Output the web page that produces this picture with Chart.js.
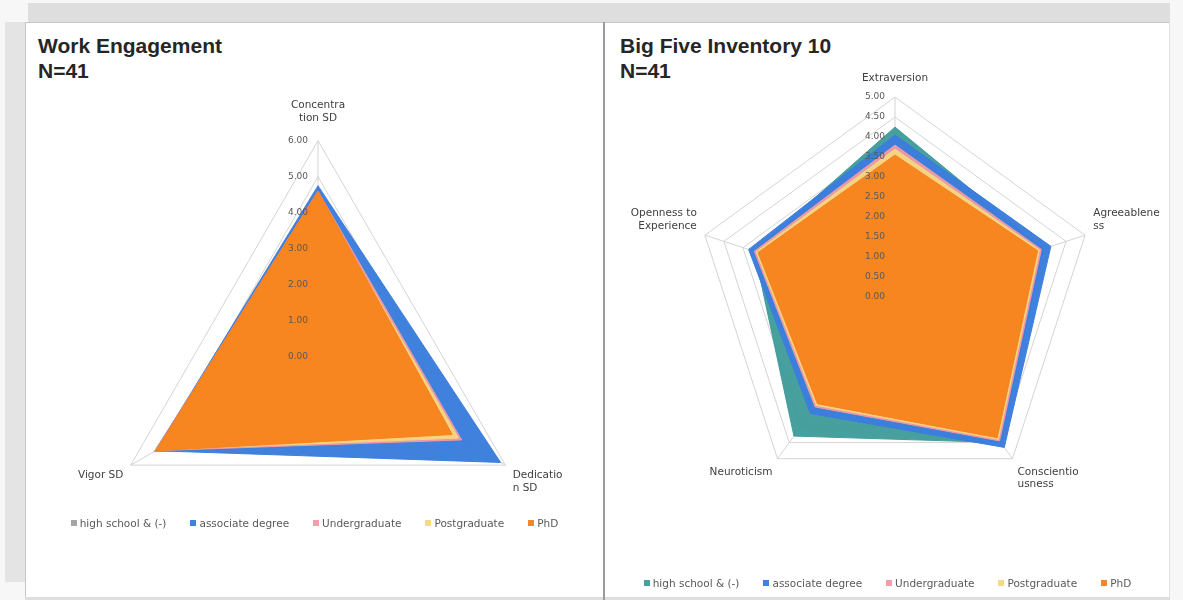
<!DOCTYPE html>
<html>
<head>
<meta charset="utf-8">
<script src="https://cdn.jsdelivr.net/npm/chart.js@4.4.0/dist/chart.umd.min.js"></script>
<style>
    body { margin: 0; width: 1183px; height: 600px; background: #f7f7f7; position: relative; overflow: hidden; font-family: "Liberation Sans", Arial, sans-serif; }
    .strip-top { position: absolute; left: 28px; top: 3px; width: 1142px; height: 19px; background: #dedede; }
    .strip-left { position: absolute; left: 5px; top: 22px; width: 20px; height: 560px; background: #e4e4e4; }
    .strip-bottom { position: absolute; left: 25px; top: 597px; width: 1145px; height: 3px; background: #dedede; }
    .panel { position: absolute; left: 25px; top: 22px; width: 1145px; height: 575px; background: #fff; border-top: 1px solid #c6c6c6; border-left: 1px solid #c6c6c6; border-right: 1px solid #e2e2e2; box-sizing: border-box; }
    .divider { position: absolute; left: 603px; top: 22px; width: 2px; height: 578px; background: #9a9a9a; }
    .title { position: absolute; top: 33px; font-weight: bold; font-size: 21px; line-height: 25px; color: #262626; }
    canvas { position: absolute; }
    .legend { position: absolute; display: flex; justify-content: center; align-items: center; font-family: "DejaVu Sans", sans-serif; font-size: 10.5px; color: #595959; }
    .legend .item { display: flex; align-items: center; margin: 0 12px; white-space: nowrap; }
    .legend .box { display: inline-block; width: 6px; height: 6px; margin-right: 3px; }
</style>
</head>
<body>
<div class="strip-top"></div>
<div class="strip-left"></div>
<div class="strip-bottom"></div>
<div class="panel"></div>
<div class="divider"></div>

<div class="title" style="left:38px">Work Engagement<br>N=41</div>
<div class="title" style="left:620px">Big Five Inventory 10<br>N=41</div>

<canvas id="weChart" width="579" height="578" style="left:25px; top:22px"></canvas>
<canvas id="bfiChart" width="588" height="578" style="left:595px; top:22px"></canvas>

<div class="legend" id="weLegend" style="left:25px; top:516px; width:579px; height:14px"></div>
<div class="legend" id="bfiLegend" style="left:605px; top:576px; width:565px; height:14px"></div>

<script>
// groups (legend)
var groups = ['high school & (-)', 'associate degree', 'Undergraduate', 'Postgraduate', 'PhD'];

// Work Engagement
var weLabels = [['Concentra', 'tion SD'], ['Dedicatio', 'n SD'], 'Vigor SD'];
var weHighSchool = [4.5, 4.6, 5.25];
var weAssociate = [4.75, 5.85, 5.2];
var weUndergrad = [4.6, 4.6, 5.2];
var wePostgrad = [4.5, 4.5, 5.15];
var wePhd = [4.6, 4.3, 5.2];

// Big Five Inventory 10
var bfiLabels = ['Extraversion', ['Agreeablene', 'ss'], ['Conscientio', 'usness'], 'Neuroticism', ['Openness to', 'Experience']];
var bfiHighSchool = [4.25, 3.9, 4.5, 4.3, 3.7];
var bfiAssociate = [4.05, 4.1, 4.65, 3.6, 3.85];
var bfiUndergrad = [3.8, 3.85, 4.45, 3.4, 3.7];
var bfiPostgrad = [3.7, 3.8, 4.4, 3.35, 3.65];
var bfiPhd = [3.55, 3.75, 4.35, 3.3, 3.6];

var weColors = ['rgba(160,160,160,0.95)', 'rgba(59,125,221,0.97)', 'rgba(242,154,166,0.95)', 'rgba(245,215,126,0.95)', 'rgba(247,129,28,0.96)'];
var bfiColors = ['rgba(61,155,152,0.95)', 'rgba(59,125,221,0.97)', 'rgba(242,154,166,0.95)', 'rgba(245,215,126,0.95)', 'rgba(247,129,28,0.96)'];

Chart.defaults.font.family = '"DejaVu Sans", sans-serif';

function makeSets(series, colors) {
    return series.map(function (d, i) {
        return {
            label: groups[i],
            data: d,
            backgroundColor: colors[i],
            borderColor: colors[i],
            borderWidth: 1,
            fill: true,
            pointRadius: 0,
            order: series.length - i   // last group (PhD) drawn on top
        };
    });
}

// tick text padded on the right so it sits left of the axis
function tickText(v) {
    return Math.abs(v).toFixed(2) + '              ';
}

function radarOptions(max, step, pad, topPad) {
    return {
        responsive: false,
        animation: false,
        layout: { padding: pad },
        plugins: { legend: { display: false }, tooltip: { enabled: false } },
        scales: {
            r: {
                min: -0.000001,
                max: max,
                ticks: {
                    stepSize: step,
                    z: 1,
                    showLabelBackdrop: false,
                    backdropPadding: 0,
                    color: '#595959',
                    font: { size: 9 },
                    callback: tickText
                },
                grid: { color: '#d4d4d4' },
                angleLines: { color: '#d4d4d4' },
                pointLabels: {
                    color: '#404040',
                    font: { size: 10.5 },
                    padding: function (ctx) { return ctx.index === 0 ? topPad : 4; }
                }
            }
        }
    };
}

var weChart = new Chart(document.getElementById('weChart'), {
    type: 'radar',
    data: {
        labels: weLabels,
        datasets: makeSets([weHighSchool, weAssociate, weUndergrad, wePostgrad, wePhd], weColors)
    },
    options: radarOptions(6, 1, { left: 8, right: 1, top: 59, bottom: 2 }, 12)
});

var bfiChart = new Chart(document.getElementById('bfiChart'), {
    type: 'radar',
    data: {
        labels: bfiLabels,
        datasets: makeSets([bfiHighSchool, bfiAssociate, bfiUndergrad, bfiPostgrad, bfiPhd], bfiColors)
    },
    options: radarOptions(5, 0.5, { left: 12, right: 0, top: 40, bottom: 87 }, 8)
});

function htmlLegend(chart, id) {
    var el = document.getElementById(id);
    var items = chart.options.plugins.legend.labels.generateLabels(chart);
    items.sort(function (a, b) { return a.datasetIndex - b.datasetIndex; });
    items.forEach(function (item) {
        var div = document.createElement('div');
        div.className = 'item';
        var box = document.createElement('span');
        box.className = 'box';
        box.style.background = item.fillStyle;
        div.appendChild(box);
        div.appendChild(document.createTextNode(item.text));
        el.appendChild(div);
    });
}
htmlLegend(weChart, 'weLegend');
htmlLegend(bfiChart, 'bfiLegend');
</script>
</body>
</html>
